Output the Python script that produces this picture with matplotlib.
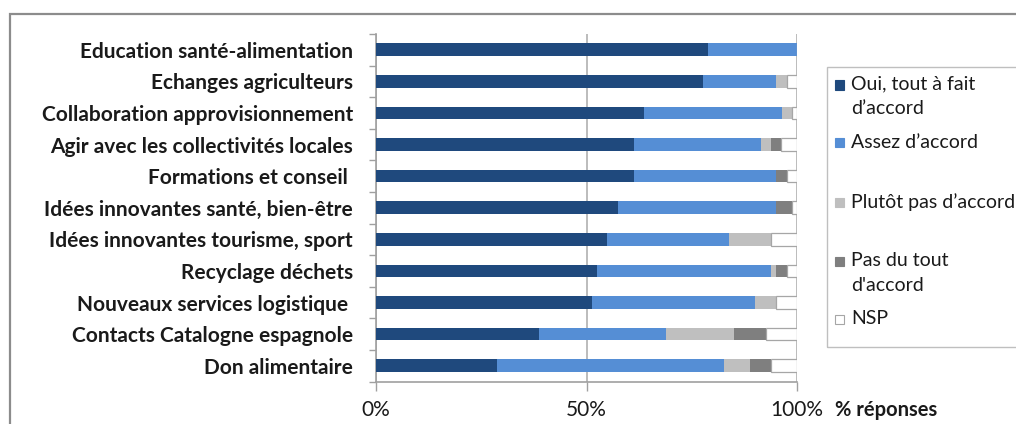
"""
Stacked horizontal bars: share of answers per partnership theme
(Excel-style survey chart, five answer categories summing to 100%).
"""

import matplotlib
matplotlib.use("Agg")
import matplotlib.pyplot as plt
from matplotlib.patches import Rectangle
import numpy as np

plt.rcParams["font.family"] = ["Lato", "DejaVu Sans"]

themes = [
    "Education santé-alimentation",
    "Echanges agriculteurs",
    "Collaboration approvisionnement",
    "Agir avec les collectivités locales",
    "Formations et conseil ",
    "Idées innovantes santé, bien-être",
    "Idées innovantes tourisme, sport",
    "Recyclage déchets",
    "Nouveaux services logistique ",
    "Contacts Catalogne espagnole",
    "Don alimentaire",
]

answers = [
    "Oui, tout à fait\nd\u2019accord",
    "Assez d\u2019accord",
    "Plutôt pas d\u2019accord",
    "Pas du tout\nd'accord",
    "NSP",
]

# percentages
oui = [78.9, 77.6, 63.7, 61.4, 61.4, 57.4, 54.9, 52.6, 51.3, 38.8, 28.7]
assez = [21.1, 17.5, 32.8, 30.0, 33.7, 37.7, 29.0, 41.2, 38.8, 30.1, 54.0]
plutot_pas = [0.0, 2.5, 2.4, 2.4, 0.0, 0.0, 10.0, 1.3, 4.8, 16.1, 6.1]
pas_du_tout = [0.0, 0.0, 0.0, 2.5, 2.5, 3.8, 0.0, 2.5, 0.0, 7.6, 5.1]
nsp = [0.0, 2.4, 1.1, 3.7, 2.4, 1.1, 6.1, 2.4, 5.1, 7.4, 6.1]

colors = ["#1F497D", "#558ED5", "#BFBFBF", "#7F7F7F", "#FFFFFF"]
edges = [None, None, None, None, "#A6A6A6"]

W, H = 1016, 424
fig = plt.figure(figsize=(W / 100, H / 100), dpi=100, facecolor="white")
ax = fig.add_axes([376 / W, 1 - 381.5 / H, (797 - 376) / W, (381.5 - 34) / H])

series = [oui, assez, plutot_pas, pas_du_tout, nsp]
y = np.arange(len(themes))
left = np.zeros(len(themes))
for vals, col, ec in zip(series, colors, edges):
    v = np.array(vals) / 100.0
    ax.barh(y, v, left=left, height=0.4, color=col,
            edgecolor=ec if ec else col, linewidth=0.9 if ec else 0,
            zorder=3)
    left += v

ax.set_xlim(0, 1)
ax.set_ylim(len(themes) - 0.5, -0.5)

ax.set_xticks([0, 0.5, 1.0])
ax.set_xticklabels(["0%", "50%", "100%"], fontsize=15, color="#1a1a1a")
ax.tick_params(axis="x", direction="out", length=6.5, width=1,
               color="#A0A0A0", pad=7)

ax.set_yticks(y)
ax.set_yticklabels(themes, fontsize=15, fontweight="bold", color="#1a1a1a")
ax.set_yticks(np.arange(len(themes) + 1) - 0.5, minor=True)
ax.tick_params(axis="y", which="major", length=0, pad=16.5)
ax.tick_params(axis="y", which="minor", direction="out", length=5,
               width=1, color="#A0A0A0")

ax.grid(axis="x", color="#B0B0B0", linewidth=1.2, zorder=0)
ax.set_axisbelow(True)
for s in ("top", "right"):
    ax.spines[s].set_visible(False)
for s in ("left", "bottom"):
    ax.spines[s].set_color("#A0A0A0")
    ax.spines[s].set_linewidth(1.2)

fig.text(835 / W, 1 - 410 / H, "% réponses", fontsize=14.5,
         fontweight="bold", va="center", ha="left", color="#1a1a1a")

# outer chart frame and legend box (Excel style)
fig.patches.append(Rectangle((10 / W, -0.1), 1.2, 1 - 14 / H + 0.1,
                             transform=fig.transFigure, fill=False,
                             edgecolor="#8C8C8C", linewidth=1.6))
fig.patches.append(Rectangle((827 / W, 1 - 347 / H), 0.3, (347 - 67) / H,
                             transform=fig.transFigure, fill=False,
                             edgecolor="#BFBFBF", linewidth=1.0))

legend_y = [96.5, 142, 202, 273, 319]
for lab, col, ec, ly in zip(answers, colors, edges, legend_y):
    first_line_y = ly - (11.5 if "\n" in lab else 0)
    fig.patches.append(Rectangle((835 / W, 1 - (first_line_y + 4.5) / H),
                                 9 / W, 9 / H, transform=fig.transFigure,
                                 facecolor=col,
                                 edgecolor=ec if ec else col, linewidth=0.8))
    fig.text(851 / W, 1 - ly / H, lab, fontsize=14, va="center", ha="left",
             color="#1a1a1a", linespacing=1.55)

fig.savefig("out.png", dpi=100, facecolor="white")
